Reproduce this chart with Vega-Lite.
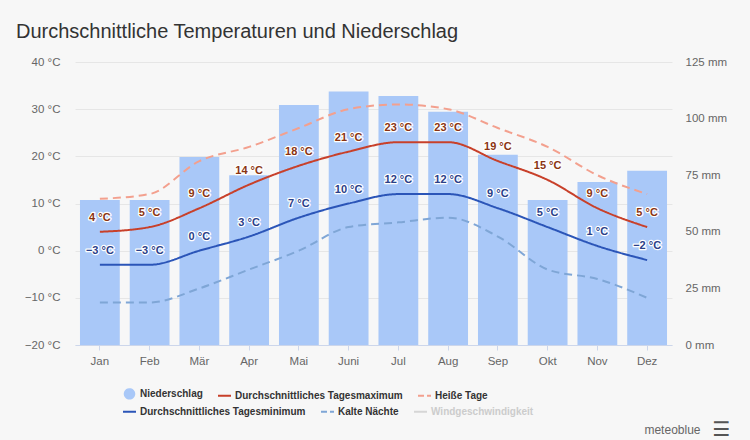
{
  "$schema": "https://vega.github.io/schema/vega-lite/v6.json",
  "autosize": "none",
  "width": 597,
  "height": 283,
  "padding": {"left": 75, "top": 62, "right": 78, "bottom": 95},
  "background": "#f7f7f7",
  "title": {
    "text": "Durchschnittliche Temperaturen und Niederschlag",
    "anchor": "start",
    "frame": "group",
    "dx": -59,
    "offset": 14,
    "font": "Liberation Sans",
    "fontSize": 20,
    "fontWeight": "normal",
    "color": "#333333"
  },
  "config": {
    "view": {"stroke": null},
    "axis": {"labelFont": "Liberation Sans", "labelFontSize": 11.5, "labelColor": "#666666"},
    "legend": {
      "title": null,
      "orient": "none",
      "direction": "horizontal",
      "labelFont": "Liberation Sans",
      "labelFontSize": 10,
      "labelFontWeight": "bold",
      "labelColor": "#333333",
      "labelLimit": 300,
      "symbolSize": 169,
      "symbolStrokeWidth": 2,
      "columnPadding": 11,
      "labelOffset": 3
    }
  },
  "datasets": {
    "precip": [
      {"month": "Jan", "mm": 64},
      {"month": "Feb", "mm": 64},
      {"month": "Mär", "mm": 83},
      {"month": "Apr", "mm": 75},
      {"month": "Mai", "mm": 106},
      {"month": "Juni", "mm": 112},
      {"month": "Jul", "mm": 110},
      {"month": "Aug", "mm": 103},
      {"month": "Sep", "mm": 84},
      {"month": "Okt", "mm": 64},
      {"month": "Nov", "mm": 72},
      {"month": "Dez", "mm": 77}
    ],
    "temp": [
      {"month": "Jan", "series": "Durchschnittliches Tagesmaximum", "value": 4},
      {"month": "Feb", "series": "Durchschnittliches Tagesmaximum", "value": 5},
      {"month": "Mär", "series": "Durchschnittliches Tagesmaximum", "value": 9},
      {"month": "Apr", "series": "Durchschnittliches Tagesmaximum", "value": 14},
      {"month": "Mai", "series": "Durchschnittliches Tagesmaximum", "value": 18},
      {"month": "Juni", "series": "Durchschnittliches Tagesmaximum", "value": 21},
      {"month": "Jul", "series": "Durchschnittliches Tagesmaximum", "value": 23},
      {"month": "Aug", "series": "Durchschnittliches Tagesmaximum", "value": 23},
      {"month": "Sep", "series": "Durchschnittliches Tagesmaximum", "value": 19},
      {"month": "Okt", "series": "Durchschnittliches Tagesmaximum", "value": 15},
      {"month": "Nov", "series": "Durchschnittliches Tagesmaximum", "value": 9},
      {"month": "Dez", "series": "Durchschnittliches Tagesmaximum", "value": 5},
      {"month": "Jan", "series": "Heiße Tage", "value": 11},
      {"month": "Feb", "series": "Heiße Tage", "value": 12},
      {"month": "Mär", "series": "Heiße Tage", "value": 19},
      {"month": "Apr", "series": "Heiße Tage", "value": 22},
      {"month": "Mai", "series": "Heiße Tage", "value": 26},
      {"month": "Juni", "series": "Heiße Tage", "value": 30},
      {"month": "Jul", "series": "Heiße Tage", "value": 31},
      {"month": "Aug", "series": "Heiße Tage", "value": 30},
      {"month": "Sep", "series": "Heiße Tage", "value": 26},
      {"month": "Okt", "series": "Heiße Tage", "value": 22},
      {"month": "Nov", "series": "Heiße Tage", "value": 16},
      {"month": "Dez", "series": "Heiße Tage", "value": 12},
      {"month": "Jan", "series": "Durchschnittliches Tagesminimum", "value": -3},
      {"month": "Feb", "series": "Durchschnittliches Tagesminimum", "value": -3},
      {"month": "Mär", "series": "Durchschnittliches Tagesminimum", "value": 0},
      {"month": "Apr", "series": "Durchschnittliches Tagesminimum", "value": 3},
      {"month": "Mai", "series": "Durchschnittliches Tagesminimum", "value": 7},
      {"month": "Juni", "series": "Durchschnittliches Tagesminimum", "value": 10},
      {"month": "Jul", "series": "Durchschnittliches Tagesminimum", "value": 12},
      {"month": "Aug", "series": "Durchschnittliches Tagesminimum", "value": 12},
      {"month": "Sep", "series": "Durchschnittliches Tagesminimum", "value": 9},
      {"month": "Okt", "series": "Durchschnittliches Tagesminimum", "value": 5},
      {"month": "Nov", "series": "Durchschnittliches Tagesminimum", "value": 1},
      {"month": "Dez", "series": "Durchschnittliches Tagesminimum", "value": -2},
      {"month": "Jan", "series": "Kalte Nächte", "value": -11},
      {"month": "Feb", "series": "Kalte Nächte", "value": -11},
      {"month": "Mär", "series": "Kalte Nächte", "value": -8},
      {"month": "Apr", "series": "Kalte Nächte", "value": -4},
      {"month": "Mai", "series": "Kalte Nächte", "value": 0},
      {"month": "Juni", "series": "Kalte Nächte", "value": 5},
      {"month": "Jul", "series": "Kalte Nächte", "value": 6},
      {"month": "Aug", "series": "Kalte Nächte", "value": 7},
      {"month": "Sep", "series": "Kalte Nächte", "value": 3},
      {"month": "Okt", "series": "Kalte Nächte", "value": -4},
      {"month": "Nov", "series": "Kalte Nächte", "value": -6},
      {"month": "Dez", "series": "Kalte Nächte", "value": -10}
    ]
  },
  "encoding": {
    "x": {
      "field": "month",
      "type": "nominal",
      "scale": {
        "domain": ["Jan", "Feb", "Mär", "Apr", "Mai", "Juni", "Jul", "Aug", "Sep", "Okt", "Nov", "Dez"],
        "paddingInner": 0.2,
        "paddingOuter": 0.1
      },
      "axis": {
        "title": "meteoblue",
        "titleX": 625,
        "titleY": 84,
        "titleAlign": "right",
        "titleAnchor": null,
        "titleBaseline": "middle",
        "titleFont": "Liberation Sans",
        "titleFontSize": 12,
        "titleFontWeight": "normal",
        "titleColor": "#666666",
        "labelAngle": 0,
        "labelPadding": 5,
        "tickSize": 5,
        "tickColor": "#ccd6eb",
        "domainColor": "#ccd6eb",
        "grid": false
      }
    }
  },
  "layer": [
    {
      "data": {"name": "precip"},
      "mark": {"type": "bar"},
      "encoding": {
        "y": {
          "field": "mm",
          "type": "quantitative",
          "scale": {"domain": [0, 125], "nice": false},
          "axis": {
            "orient": "right",
            "values": [0, 25, 50, 75, 100, 125],
            "labelExpr": "datum.label + ' mm'",
            "grid": false,
            "domain": false,
            "ticks": false,
            "labelPadding": 13,
            "title": "☰",
            "titleAngle": 0,
            "titleX": 49,
            "titleY": 367,
            "titleAlign": "center",
            "titleBaseline": "middle",
            "titleFont": "DejaVu Sans",
            "titleFontSize": 20,
            "titleFontWeight": "bold",
            "titleColor": "#555555"
          }
        },
        "color": {
          "datum": "Niederschlag",
          "type": "nominal",
          "title": null,
          "scale": {
            "domain": ["Niederschlag", "Durchschnittliches Tagesmaximum", "Heiße Tage"],
            "range": ["#a9c8f8", "#c8402a", "#f3a08e"]
          },
          "legend": {
            "legendX": 47,
            "legendY": 324,
            "encode": {
              "symbols": {
                "update": {
                  "shape": {"signal": "datum.value === 'Niederschlag' ? 'circle' : 'stroke'"},
                  "size": {"signal": "datum.value === 'Niederschlag' ? 90 : 169"},
                  "fill": {"signal": "datum.value === 'Niederschlag' ? '#a9c8f8' : 'transparent'"},
                  "stroke": {"signal": "datum.value === 'Niederschlag' ? 'transparent' : datum.value === 'Durchschnittliches Tagesmaximum' ? '#c8402a' : '#f3a08e'"},
                  "strokeDash": {"signal": "datum.value === 'Heiße Tage' ? [6, 3] : [1, 0]"},
                  "strokeWidth": {"value": 2},
                  "opacity": {"value": 1}
                }
              }
            }
          }
        }
      }
    },
    {
      "data": {"name": "temp"},
      "encoding": {
        "y": {
          "field": "value",
          "type": "quantitative",
          "scale": {"domain": [-20, 40], "nice": false},
          "axis": {
            "orient": "left",
            "values": [-20, -10, 0, 10, 20, 30, 40],
            "labelExpr": "datum.label + ' °C'",
            "grid": true,
            "gridColor": "#e6e6e6",
            "domain": false,
            "ticks": false,
            "labelPadding": 15,
            "title": null
          }
        }
      },
      "layer": [
        {
          "transform": [{"filter": {"field": "series", "oneOf": ["Durchschnittliches Tagesmaximum", "Heiße Tage"]}}],
          "mark": {"type": "line", "interpolate": "monotone", "strokeWidth": 2},
          "encoding": {
            "color": {
              "field": "series",
              "type": "nominal",
              "title": null,
              "legend": {
                "legendX": 47,
                "legendY": 324,
                "encode": {
                  "symbols": {
                    "update": {
                      "shape": {"signal": "datum.value === 'Niederschlag' ? 'circle' : 'stroke'"},
                      "size": {"signal": "datum.value === 'Niederschlag' ? 90 : 169"},
                      "fill": {"signal": "datum.value === 'Niederschlag' ? '#a9c8f8' : 'transparent'"},
                      "stroke": {"signal": "datum.value === 'Niederschlag' ? 'transparent' : datum.value === 'Durchschnittliches Tagesmaximum' ? '#c8402a' : '#f3a08e'"},
                      "strokeDash": {"signal": "datum.value === 'Heiße Tage' ? [6, 3] : [1, 0]"},
                      "strokeWidth": {"value": 2},
                      "opacity": {"value": 1}
                    }
                  }
                }
              }
            },
            "strokeDash": {
              "field": "series",
              "type": "nominal",
              "scale": {
                "domain": ["Durchschnittliches Tagesmaximum", "Heiße Tage", "Durchschnittliches Tagesminimum", "Kalte Nächte"],
                "range": [[1, 0], [8, 5], [1, 0], [8, 5]]
              },
              "legend": null
            }
          }
        },
        {
          "transform": [{"filter": {"field": "series", "oneOf": ["Durchschnittliches Tagesminimum", "Kalte Nächte"]}}],
          "mark": {"type": "line", "interpolate": "monotone", "strokeWidth": 2},
          "encoding": {
            "stroke": {
              "field": "series",
              "type": "nominal",
              "title": null,
              "scale": {
                "domain": ["Durchschnittliches Tagesminimum", "Kalte Nächte", "Windgeschwindigkeit"],
                "range": ["#2b55b8", "#7fa6d6", "#d6d6d6"]
              },
              "legend": {
                "legendX": 47,
                "legendY": 342,
                "symbolType": "stroke",
                "encode": {
                  "symbols": {
                    "update": {
                      "shape": {"value": "stroke"},
                      "fill": {"value": "transparent"},
                      "stroke": {"signal": "datum.value === 'Durchschnittliches Tagesminimum' ? '#2b55b8' : datum.value === 'Kalte Nächte' ? '#7fa6d6' : '#d6d6d6'"},
                      "strokeDash": {"signal": "datum.value === 'Kalte Nächte' ? [6, 3] : [1, 0]"},
                      "strokeWidth": {"value": 2},
                      "opacity": {"value": 1}
                    }
                  },
                  "labels": {
                    "update": {
                      "fill": {"signal": "datum.value === 'Windgeschwindigkeit' ? '#cccccc' : '#333333'"}
                    }
                  }
                }
              }
            },
            "strokeDash": {
              "field": "series",
              "type": "nominal",
              "scale": {
                "domain": ["Durchschnittliches Tagesmaximum", "Heiße Tage", "Durchschnittliches Tagesminimum", "Kalte Nächte"],
                "range": [[1, 0], [8, 5], [1, 0], [8, 5]]
              },
              "legend": null
            }
          }
        },
        {
          "transform": [{"filter": {"field": "series", "oneOf": ["Durchschnittliches Tagesmaximum", "Durchschnittliches Tagesminimum"]}}],
          "mark": {
            "type": "text",
            "dy": -14,
            "baseline": "middle",
            "font": "Liberation Sans",
            "fontSize": 11,
            "fontWeight": "bold",
            "fill": "#ffffff",
            "stroke": "#ffffff",
            "strokeWidth": 2.5,
            "strokeJoin": "round",
            "text": {"expr": "format(datum.value, 'd') + ' °C'"}
          }
        },
        {
          "transform": [{"filter": {"field": "series", "oneOf": ["Durchschnittliches Tagesmaximum", "Durchschnittliches Tagesminimum"]}}],
          "mark": {
            "type": "text",
            "dy": -14,
            "baseline": "middle",
            "font": "Liberation Sans",
            "fontSize": 11,
            "fontWeight": "bold",
            "text": {"expr": "format(datum.value, 'd') + ' °C'"}
          },
          "encoding": {
            "fill": {
              "condition": {"test": "datum.series === 'Durchschnittliches Tagesmaximum'", "value": "#8a3412"},
              "value": "#2a4088"
            }
          }
        }
      ]
    }
  ],
  "resolve": {"scale": {"y": "independent"}}
}
